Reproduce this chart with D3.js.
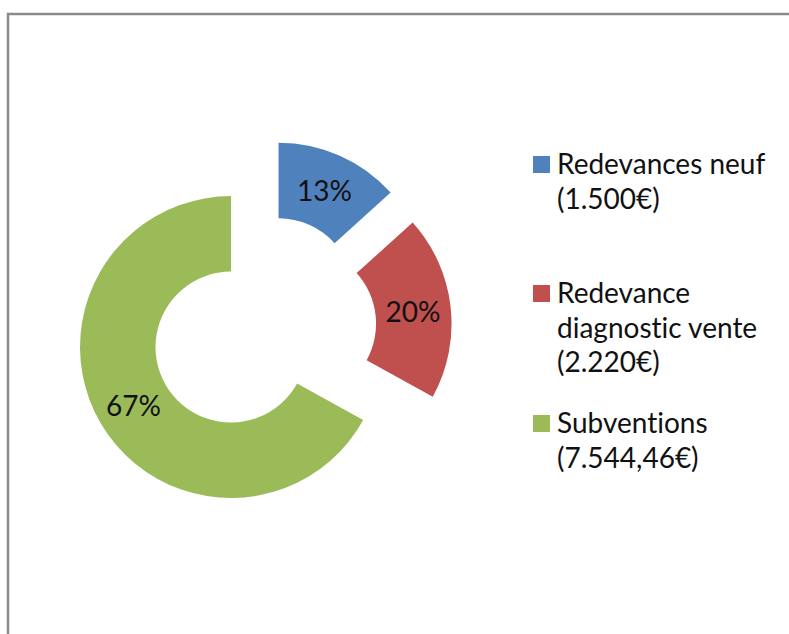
<!DOCTYPE html>
<html lang="fr">
<head>
<meta charset="utf-8">
<script src="https://cdn.jsdelivr.net/npm/d3@7"></script>
<style>
  html, body { margin: 0; padding: 0; background: #fff; }
  svg { display: block; }
  text {
    font-family: Lato, "Open Sans", sans-serif;
    fill: #111;
    font-variant-ligatures: none;
    font-feature-settings: "liga" 0, "clig" 0;
  }
</style>
</head>
<body>
<div id="chart"></div>
<script>
// Budget breakdown: revenue sources
const categories = ["Redevances neuf", "Redevance diagnostic vente", "Subventions"];
const amounts = [1500, 2220, 7544.46];
const legendLines = [
  ["Redevances neuf", "(1.500€)"],
  ["Redevance", "diagnostic vente", "(2.220€)"],
  ["Subventions", "(7.544,46€)"]
];
const colors = ["#4F81BD", "#C0504D", "#9BBB59"];

const width = 789, height = 634;
const svg = d3.select("#chart").append("svg")
  .attr("width", width).attr("height", height);

// chart area frame (runs off the right and bottom edges)
svg.append("rect")
  .attr("x", 8).attr("y", 14)
  .attr("width", width + 20).attr("height", height + 20)
  .attr("fill", "none")
  .attr("stroke", "#8a8a8a")
  .attr("stroke-width", 2.5);

// exploded doughnut
const cx = 263.3, cy = 328;
const outerR = 151, innerR = 75.5, explode = 37.5;

const pie = d3.pie().sort(null).value(d => d)(amounts);
const arc = d3.arc().innerRadius(innerR).outerRadius(outerR);
const labelArc = d3.arc().innerRadius((innerR + outerR) / 2).outerRadius((innerR + outerR) / 2);
const total = d3.sum(amounts);
const pct = d3.format(".0%");

const slices = svg.append("g")
  .attr("transform", `translate(${cx},${cy})`)
  .selectAll("g.slice")
  .data(pie)
  .join("g")
  .attr("class", "slice")
  .attr("transform", d => {
    const mid = (d.startAngle + d.endAngle) / 2;
    return `translate(${explode * Math.sin(mid)},${-explode * Math.cos(mid)})`;
  });

slices.append("path")
  .attr("d", arc)
  .attr("fill", (d, i) => colors[i]);

slices.append("text")
  .attr("transform", d => `translate(${labelArc.centroid(d)})`)
  .attr("text-anchor", "middle")
  .attr("dominant-baseline", "central")
  .attr("font-size", 28)
  .text(d => pct(d.value / total));

// legend
const legendX = 533;
const firstBaselines = [174, 303, 433];
const lineStep = 34.5;

const legend = svg.append("g")
  .selectAll("g.entry")
  .data(categories)
  .join("g")
  .attr("class", "entry");

legend.append("rect")
  .attr("x", legendX)
  .attr("y", (d, i) => firstBaselines[i] - 18)
  .attr("width", 17).attr("height", 17)
  .attr("fill", (d, i) => colors[i]);

legend.append("text")
  .attr("x", legendX + 24)
  .attr("y", (d, i) => firstBaselines[i])
  .attr("font-size", 28)
  .selectAll("tspan")
  .data((d, i) => legendLines[i])
  .join("tspan")
  .attr("x", legendX + 24)
  .attr("dy", (d, j) => j === 0 ? 0 : lineStep)
  .text(d => d);
</script>
</body>
</html>
